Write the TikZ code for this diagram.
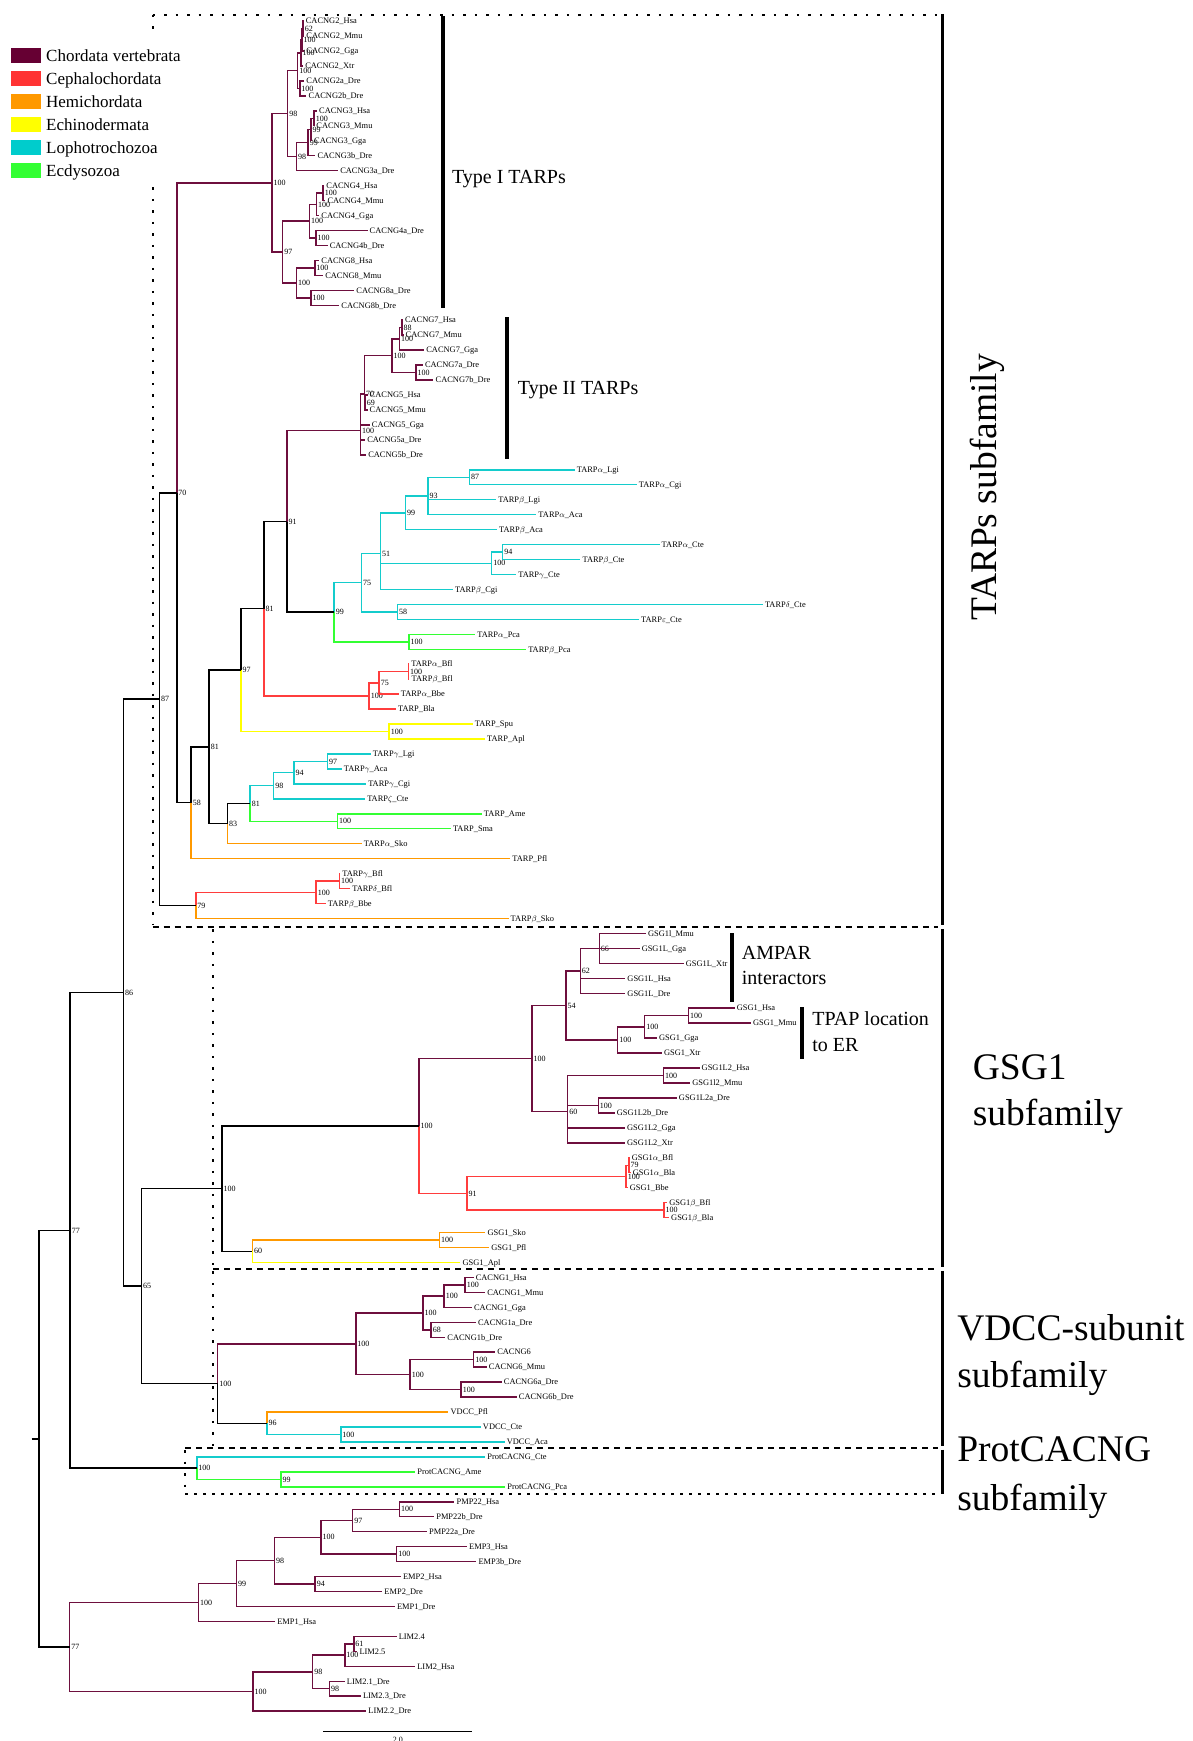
\documentclass[tikz,border=0pt]{standalone}
\usepackage{fontspec}
\setmainfont{Liberation Serif}
\definecolor{cV}{HTML}{6E0F3E}
\definecolor{cC}{HTML}{FF3D3D}
\definecolor{cH}{HTML}{FF9900}
\definecolor{cE}{HTML}{FFFF00}
\definecolor{cL}{HTML}{14CCCC}
\definecolor{cD}{HTML}{33FF33}
\definecolor{gV}{HTML}{660033}
\definecolor{gC}{HTML}{FF3333}
\definecolor{gL}{HTML}{00CCCC}
\tikzset{
  br/.style={line width=1.5pt},
  leaf/.style={anchor=west, inner xsep=2pt, inner ysep=0pt, text height=5.8pt, text depth=0.3pt, font=\fontsize{8.4}{10}\selectfont},
  bs/.style={inner sep=0.9pt, text height=5.4pt, text depth=0pt, font=\fontsize{8}{9}\selectfont, label distance=0.6pt},
  ann/.style={font=\fontsize{20}{24}\selectfont, inner sep=0pt},
  sub/.style={font=\fontsize{37.5}{45}\selectfont, inner sep=0pt},
  legtext/.style={anchor=west, inner sep=0pt, text height=11.5pt, text depth=0pt, font=\fontsize{17}{20}\selectfont},
  bar/.style={line width=4pt},
  bigbar/.style={line width=3pt},
  dotln/.style={line width=2pt, dash pattern=on 2.5pt off 9pt},
  dashln/.style={line width=1.8pt, dash pattern=on 6pt off 5pt},
}
\newcommand{\lf}[4]{\node[leaf] (#1) at (#2,{19+13.47*#3}) {#4};}
\newcommand{\nd}[4]{\coordinate[label={[bs]right:#4}] (#1) at (#2,{19+13.47*#3});}
\newcommand{\ed}[3]{\foreach \ch in {#3}{\draw[br,#1] (#2) |- (\ch);}}
\begin{document}
\begin{tikzpicture}[x=1.1099pt,y=-1.1099pt]
\useasboundingbox (0,0) rectangle (1074,1568);
% ---------- boxes ----------
\draw[dotln] (137.5,13.3) -- (845,13.3);
\draw[dotln] (137.5,13.3) -- (137.5,833);
\draw[dashln] (137.5,835) -- (845,835);
\draw[dotln] (192,837) -- (192,1141);
\draw[dashln] (192,1143) -- (845,1143);
\draw[dotln] (192,1145) -- (192,1302);
\draw[dashln] (166.7,1304) -- (845,1304);
\draw[dotln] (166.7,1306) -- (166.7,1344);
\draw[dashln, dash pattern=on 3pt off 6pt] (166.7,1345.5) -- (845,1345.5);
\draw[bigbar] (848.5,12.5) -- (848.5,833.5);
\draw[bigbar] (848.5,836.5) -- (848.5,1141.5);
\draw[bigbar] (848.5,1144.5) -- (848.5,1302.5);
\draw[bigbar] (848.5,1305.5) -- (848.5,1345.5);
% ---------- legend ----------
\fill[white] (4,27) rectangle (168,163);
\foreach \col/\txt [count=\i from 0] in {gV/Chordata vertebrata, gC/Cephalochordata, cH/Hemichordata, cE/Echinodermata, gL/Lophotrochozoa, cD/Ecdysozoa}{
  \fill[\col] (10.3,{43.5+20.7*\i}) rectangle (36.9,{56.5+20.7*\i});
  \node[legtext] (leg\i) at (41.4,{50+20.7*\i}) {\txt};
}
% ---------- leaves ----------
\lf{L0}{273.5}{0}{CACNG2\_Hsa}
\lf{L1}{274}{1}{CACNG2\_Mmu}
\lf{L2}{274}{2}{CACNG2\_Gga}
\lf{L3}{273}{3}{CACNG2\_Xtr}
\lf{L4}{274}{4}{CACNG2a\_Dre}
\lf{L5}{276}{5}{CACNG2b\_Dre}
\lf{L6}{285.5}{6}{CACNG3\_Hsa}
\lf{L7}{283}{7}{CACNG3\_Mmu}
\lf{L8}{281}{8}{CACNG3\_Gga}
\lf{L9}{284}{9}{CACNG3b\_Dre}
\lf{L10}{304.5}{10}{CACNG3a\_Dre}
\lf{L11}{292}{11}{CACNG4\_Hsa}
\lf{L12}{293}{12}{CACNG4\_Mmu}
\lf{L13}{287.5}{13}{CACNG4\_Gga}
\lf{L14}{331}{14}{CACNG4a\_Dre}
\lf{L15}{295}{15}{CACNG4b\_Dre}
\lf{L16}{287.5}{16}{CACNG8\_Hsa}
\lf{L17}{291}{17}{CACNG8\_Mmu}
\lf{L18}{319}{18}{CACNG8a\_Dre}
\lf{L19}{305.5}{19}{CACNG8b\_Dre}
\lf{L20}{362.8}{20}{CACNG7\_Hsa}
\lf{L21}{363.4}{21}{CACNG7\_Mmu}
\lf{L22}{382}{22}{CACNG7\_Gga}
\lf{L23}{380.8}{23}{CACNG7a\_Dre}
\lf{L24}{390.4}{24}{CACNG7b\_Dre}
\lf{L25}{331}{25}{CACNG5\_Hsa}
\lf{L26}{331}{26}{CACNG5\_Mmu}
\lf{L27}{333}{27}{CACNG5\_Gga}
\lf{L28}{328.8}{28}{CACNG5a\_Dre}
\lf{L29}{329.7}{29}{CACNG5b\_Dre}
\lf{L30}{517.5}{30}{TARP$\alpha$\_Lgi}
\lf{L31}{573.4}{31}{TARP$\alpha$\_Cgi}
\lf{L32}{446.8}{32}{TARP$\beta$\_Lgi}
\lf{L33}{483}{33}{TARP$\alpha$\_Aca}
\lf{L34}{447.5}{34}{TARP$\beta$\_Aca}
\lf{L35}{594}{35}{TARP$\alpha$\_Cte}
\lf{L36}{522.7}{36}{TARP$\beta$\_Cte}
\lf{L37}{464.8}{37}{TARP$\gamma$\_Cte}
\lf{L38}{407.9}{38}{TARP$\beta$\_Cgi}
\lf{L39}{687}{39}{TARP$\delta$\_Cte}
\lf{L40}{575.5}{40}{TARP$\varepsilon$\_Cte}
\lf{L41}{427.9}{41}{TARP$\alpha$\_Pca}
\lf{L42}{473.8}{42}{TARP$\beta$\_Pca}
\lf{L43}{368.5}{43}{TARP$\alpha$\_Bfl}
\lf{L44}{368.8}{44}{TARP$\beta$\_Bfl}
\lf{L45}{359}{45}{TARP$\alpha$\_Bbe}
\lf{L46}{356.5}{46}{TARP\_Bla}
\lf{L47}{425.7}{47}{TARP\_Spu}
\lf{L48}{436.8}{48}{TARP\_Apl}
\lf{L49}{333.9}{49}{TARP$\gamma$\_Lgi}
\lf{L50}{307.8}{50}{TARP$\gamma$\_Aca}
\lf{L51}{329.7}{51}{TARP$\gamma$\_Cgi}
\lf{L52}{328.8}{52}{TARP$\zeta$\_Cte}
\lf{L53}{433.9}{53}{TARP\_Ame}
\lf{L54}{406}{54}{TARP\_Sma}
\lf{L55}{325.8}{55}{TARP$\alpha$\_Sko}
\lf{L56}{459.5}{56}{TARP\_Pfl}
\lf{L57}{306.3}{57}{TARP$\gamma$\_Bfl}
\lf{L58}{315.3}{58}{TARP$\delta$\_Bfl}
\lf{L59}{293.4}{59}{TARP$\beta$\_Bbe}
\lf{L60}{458}{60}{TARP$\beta$\_Sko}
\lf{L61}{581.7}{61}{GSG1l\_Mmu}
\lf{L62}{576}{62}{GSG1L\_Gga}
\lf{L63}{615.7}{63}{GSG1L\_Xtr}
\lf{L64}{563.1}{64}{GSG1L\_Hsa}
\lf{L65}{563.1}{65}{GSG1L\_Dre}
\lf{L66}{661.6}{66}{GSG1\_Hsa}
\lf{L67}{676.3}{67}{GSG1\_Mmu}
\lf{L68}{591.6}{68}{GSG1\_Gga}
\lf{L69}{596.1}{69}{GSG1\_Xtr}
\lf{L70}{630}{70}{GSG1L2\_Hsa}
\lf{L71}{621.5}{71}{GSG1l2\_Mmu}
\lf{L72}{609.5}{72}{GSG1L2a\_Dre}
\lf{L73}{553.5}{73}{GSG1L2b\_Dre}
\lf{L74}{562.8}{74}{GSG1L2\_Gga}
\lf{L75}{562.8}{75}{GSG1L2\_Xtr}
\lf{L76}{567}{76}{GSG1$\alpha$\_Bfl}
\lf{L77}{568}{77}{GSG1$\alpha$\_Bla}
\lf{L78}{565.3}{78}{GSG1\_Bbe}
\lf{L79}{600.8}{79}{GSG1$\beta$\_Bfl}
\lf{L80}{602.5}{80}{GSG1$\beta$\_Bla}
\lf{L81}{437.1}{81}{GSG1\_Sko}
\lf{L82}{440.5}{82}{GSG1\_Pfl}
\lf{L83}{414.7}{83}{GSG1\_Apl}
\lf{L84}{426.5}{84}{CACNG1\_Hsa}
\lf{L85}{436.9}{85}{CACNG1\_Mmu}
\lf{L86}{425}{86}{CACNG1\_Gga}
\lf{L87}{428.6}{87}{CACNG1a\_Dre}
\lf{L88}{401}{88}{CACNG1b\_Dre}
\lf{L89}{445.9}{89}{CACNG6}
\lf{L90}{438.4}{90}{CACNG6\_Mmu}
\lf{L91}{451.9}{91}{CACNG6a\_Dre}
\lf{L92}{465.4}{92}{CACNG6b\_Dre}
\lf{L93}{403.9}{93}{VDCC\_Pfl}
\lf{L94}{433}{94}{VDCC\_Cte}
\lf{L95}{454.5}{95}{VDCC\_Aca}
\lf{L96}{437}{96}{ProtCACNG\_Cte}
\lf{L97}{374}{97}{ProtCACNG\_Ame}
\lf{L98}{455}{98}{ProtCACNG\_Pca}
\lf{L99}{409.3}{99}{PMP22\_Hsa}
\lf{L100}{391}{100}{PMP22b\_Dre}
\lf{L101}{384.5}{101}{PMP22a\_Dre}
\lf{L102}{420.6}{102}{EMP3\_Hsa}
\lf{L103}{429}{103}{EMP3b\_Dre}
\lf{L104}{361}{104}{EMP2\_Hsa}
\lf{L105}{344.3}{105}{EMP2\_Dre}
\lf{L106}{355.6}{106}{EMP1\_Dre}
\lf{L107}{247.8}{107}{EMP1\_Hsa}
\lf{L108}{357.2}{108}{LIM2.4}
\lf{L109}{321.8}{109}{LIM2.5}
\lf{L110}{373.9}{110}{LIM2\_Hsa}
\lf{L111}{310.5}{111}{LIM2.1\_Dre}
\lf{L112}{325}{112}{LIM2.3\_Dre}
\lf{L113}{329.8}{113}{LIM2.2\_Dre}
% ---------- internal nodes ----------
\nd{a62}{273}{0.5}{62}
\nd{a100a}{272}{1.25}{100}
\nd{a100b}{271}{2.125}{100}
\nd{a100c}{270}{4.5}{100}
\nd{aCG}{268}{3.3125}{100}
\nd{b100}{283}{6.5}{100}
\nd{b99a}{280}{7.25}{99}
\nd{b99b}{277.6}{8.125}{99}
\nd{bCG}{267}{9.0625}{98}
\nd{n98T}{259}{6.1875}{98}
\nd{c100a}{291}{11.5}{100}
\nd{c100b}{285}{12.25}{100}
\nd{c100c}{284.5}{14.5}{100}
\nd{cCG}{278.6}{13.375}{100}
\nd{d100a}{283.5}{16.5}{100}
\nd{d100b}{280}{18.5}{100}
\nd{dCG}{267}{17.5}{100}
\nd{n97T}{254.5}{15.4375}{97}
\nd{T1}{244.8}{10.8125}{100}
\nd{e88}{361.9}{20.5}{88}
\nd{e100a}{359.8}{21.25}{100}
\nd{e100b}{374.6}{23.5}{100}
\nd{eCG}{352.9}{22.375}{100}
\nd{e69}{328.8}{25.5}{69}
\nd{e70}{328.2}{24.94}{70}
\nd{T2}{324.7}{27.39}{100}
\nd{f87}{422.7}{30.5}{87}
\nd{f93}{385.5}{31.75}{93}
\nd{f99}{365.2}{32.875}{99}
\nd{f94}{452.7}{35.5}{94}
\nd{f100}{442.7}{36.25}{100}
\nd{f51}{342.7}{35.6}{51}
\nd{f58}{357.9}{39.5}{58}
\nd{f75}{325.5}{37.55}{75}
\nd{g100}{368.3}{41.5}{100}
\nd{n99}{301}{39.525}{99}
\nd{n91}{258.3}{33.46}{91}
\nd{h100a}{367.8}{43.5}{100}
\nd{h75}{341.4}{44.25}{75}
\nd{h100}{332.4}{45.125}{100}
\nd{n81a}{237.6}{39.29}{81}
\nd{i100}{350.5}{47.5}{100}
\nd{n97}{217}{43.4}{97}
\nd{j97}{294.9}{49.5}{97}
\nd{j94}{264.8}{50.25}{94}
\nd{j98}{246.5}{51.125}{98}
\nd{k100}{304}{53.5}{100}
\nd{n81c}{225.2}{52.31}{81}
\nd{n83}{204.9}{53.66}{83}
\nd{n81b}{188.3}{48.53}{81}
\nd{n58}{172.1}{52.26}{58}
\nd{n70}{159.2}{31.54}{70}
\nd{x1}{305.6}{57.5}{100}
\nd{x2}{284.7}{58.25}{100}
\nd{n79}{176.3}{59.125}{79}
\nd{n87}{143.5}{45.33}{87}
\nd{m66}{539.7}{62}{66}
\nd{m62}{522.6}{63.5}{62}
\nd{m100a}{620.1}{66.5}{100}
\nd{m100b}{580.5}{67.25}{100}
\nd{m100c}{556.2}{68.125}{100}
\nd{m54}{509.6}{65.81}{54}
\nd{o100a}{597.4}{70.5}{100}
\nd{o100b}{538.8}{72.5}{100}
\nd{o60}{511.2}{72.9}{60}
\nd{mV}{479}{69.36}{100}
\nd{p79}{566.4}{76.5}{79}
\nd{p100a}{563.9}{77.25}{100}
\nd{p100b}{598}{79.5}{100}
\nd{p91}{420.5}{78.375}{91}
\nd{mG}{377.4}{73.87}{100}
\nd{q100}{395.7}{81.5}{100}
\nd{q60}{227.4}{82.25}{60}
\nd{G1}{199.8}{78.06}{100}
\nd{r100a}{418.9}{84.5}{100}
\nd{r100b}{400}{85.25}{100}
\nd{r68}{388.3}{87.5}{68}
\nd{r100c}{380.8}{86.375}{100}
\nd{s100a}{426.5}{89.5}{100}
\nd{s100b}{415.4}{91.5}{100}
\nd{s100c}{369.4}{90.5}{100}
\nd{r100}{320.4}{88.44}{100}
\nd{u100}{306.9}{94.5}{100}
\nd{u96}{240.3}{93.75}{96}
\nd{VD}{196.1}{91.1}{100}
\nd{n65}{127.3}{84.58}{65}
\nd{n86}{111.1}{64.96}{86}
\nd{w99}{252.9}{97.5}{99}
\nd{PR}{177.2}{96.75}{100}
\nd{n77a}{63.1}{80.86}{77}
\nd{v100a}{359.7}{99.5}{100}
\nd{v97}{317.6}{100.25}{97}
\nd{v100b}{357.2}{102.5}{100}
\nd{v100c}{289}{101.375}{100}
\nd{v94}{283.8}{104.5}{94}
\nd{v98}{247.1}{102.94}{98}
\nd{v99}{213}{104.47}{99}
\nd{v100}{178.6}{105.73}{100}
\nd{y61}{318.6}{108.5}{61}
\nd{y100a}{310.5}{109.25}{100}
\nd{y98b}{296.7}{111.5}{98}
\nd{y98}{281.6}{110.375}{98}
\nd{y100}{227.8}{111.69}{100}
\nd{n77b}{62.7}{108.71}{77}
\coordinate (root) at (35,{19+13.47*94.79});
\coordinate (stub) at (28.5,{19+13.47*94.79});
% ---------- branches ----------
\ed{cV}{a62}{L0,L1}
\ed{cV}{a100a}{a62,L2}
\ed{cV}{a100b}{a100a,L3}
\ed{cV}{a100c}{L4,L5}
\ed{cV}{aCG}{a100b,a100c}
\ed{cV}{b100}{L6,L7}
\ed{cV}{b99a}{b100,L8}
\ed{cV}{b99b}{b99a,L9}
\ed{cV}{bCG}{b99b,L10}
\ed{cV}{n98T}{aCG,bCG}
\ed{cV}{c100a}{L11,L12}
\ed{cV}{c100b}{c100a,L13}
\ed{cV}{c100c}{L14,L15}
\ed{cV}{cCG}{c100b,c100c}
\ed{cV}{d100a}{L16,L17}
\ed{cV}{d100b}{L18,L19}
\ed{cV}{dCG}{d100a,d100b}
\ed{cV}{n97T}{cCG,dCG}
\ed{cV}{T1}{n98T,n97T}
\ed{cV}{e88}{L20,L21}
\ed{cV}{e100a}{e88,L22}
\ed{cV}{e100b}{L23,L24}
\ed{cV}{eCG}{e100a,e100b}
\ed{cV}{e69}{L25,L26}
\ed{cV}{e70}{eCG,e69}
\ed{cV}{T2}{e70,L27,L28,L29}
\ed{cL}{f87}{L30,L31}
\ed{cL}{f93}{f87,L32,L33}
\ed{cL}{f99}{f93,L34}
\ed{cL}{f94}{L35,L36}
\ed{cL}{f100}{f94,L37}
\ed{cL}{f51}{f99,f100,L38}
\ed{cL}{f58}{L39,L40}
\ed{cL}{f75}{f51,f58}
\ed{cD}{g100}{L41,L42}
\ed{cL}{n99}{f75}
\ed{cD}{n99}{g100}
\ed{cV}{n91}{T2}
\ed{black}{n91}{n99}
\ed{cC}{h100a}{L43,L44}
\ed{cC}{h75}{h100a,L45}
\ed{cC}{h100}{h75,L46}
\ed{black}{n81a}{n91}
\ed{cC}{n81a}{h100}
\ed{cE}{i100}{L47,L48}
\ed{black}{n97}{n81a}
\ed{cE}{n97}{i100}
\ed{cL}{j97}{L49,L50}
\ed{cL}{j94}{j97,L51}
\ed{cL}{j98}{j94,L52}
\ed{cD}{k100}{L53,L54}
\ed{cL}{n81c}{j98}
\ed{cD}{n81c}{k100}
\ed{black}{n83}{n81c}
\ed{cH}{n83}{L55}
\ed{black}{n81b}{n97,n83}
\ed{black}{n58}{n81b}
\ed{cH}{n58}{L56}
\ed{cV}{n70}{T1}
\ed{black}{n70}{n58}
\ed{cC}{x1}{L57,L58}
\ed{cC}{x2}{x1,L59}
\ed{cC}{n79}{x2}
\ed{cH}{n79}{L60}
\ed{black}{n87}{n70,n79}
\ed{cV}{m66}{L61,L62,L63}
\ed{cV}{m62}{m66,L64,L65}
\ed{cV}{m100a}{L66,L67}
\ed{cV}{m100b}{m100a,L68}
\ed{cV}{m100c}{m100b,L69}
\ed{cV}{m54}{m62,m100c}
\ed{cV}{o100a}{L70,L71}
\ed{cV}{o100b}{L72,L73}
\ed{cV}{o60}{o100a,o100b,L74,L75}
\ed{cV}{mV}{m54,o60}
\ed{cC}{p79}{L76,L77}
\ed{cC}{p100a}{p79,L78}
\ed{cC}{p100b}{L79,L80}
\ed{cC}{p91}{p100a,p100b}
\ed{cV}{mG}{mV}
\ed{cC}{mG}{p91}
\ed{cH}{q100}{L81,L82}
\ed{cH}{q60}{q100}
\ed{cE}{q60}{L83}
\ed{black}{G1}{mG,q60}
\ed{cV}{r100a}{L84,L85}
\ed{cV}{r100b}{r100a,L86}
\ed{cV}{r68}{L87,L88}
\ed{cV}{r100c}{r100b,r68}
\ed{cV}{s100a}{L89,L90}
\ed{cV}{s100b}{L91,L92}
\ed{cV}{s100c}{s100a,s100b}
\ed{cV}{r100}{r100c,s100c}
\ed{cL}{u100}{L94,L95}
\ed{cH}{u96}{L93}
\ed{cL}{u96}{u100}
\ed{cV}{VD}{r100}
\ed{black}{VD}{u96}
\ed{black}{n65}{G1,VD}
\ed{black}{n86}{n87,n65}
\ed{cD}{w99}{L97,L98}
\ed{cL}{PR}{L96}
\ed{cD}{PR}{w99}
\ed{black}{n77a}{n86,PR}
\ed{cV}{v100a}{L99,L100}
\ed{cV}{v97}{v100a,L101}
\ed{cV}{v100b}{L102,L103}
\ed{cV}{v100c}{v97,v100b}
\ed{cV}{v94}{L104,L105}
\ed{cV}{v98}{v100c,v94}
\ed{cV}{v99}{v98,L106}
\ed{cV}{v100}{v99,L107}
\ed{cV}{y61}{L108,L109}
\ed{cV}{y100a}{y61,L110}
\ed{cV}{y98b}{L111,L112}
\ed{cV}{y98}{y100a,y98b}
\ed{cV}{y100}{y98,L113}
\ed{cV}{n77b}{v100,y100}
\ed{black}{root}{n77a,n77b}
\draw[br] (stub) -- (root);
% ---------- annotation bars ----------
\coordinate (b1t) at (399,14.5); \coordinate (b1b) at (399,277.8);
\draw[bar] (b1t) -- (b1b);
\node[ann, anchor=base west] (tI) at (407,165) {Type I TARPs};
\coordinate (b2t) at (457,285.5); \coordinate (b2b) at (457,413);
\draw[bar] (b2t) -- (b2b);
\node[ann, anchor=base west] (tII) at (466.3,355) {Type II TARPs};
\coordinate (b3t) at (659.5,840.3); \coordinate (b3b) at (659.5,902.7);
\draw[bar] (b3t) -- (b3b);
\node[ann, anchor=base west] (amp1) at (668,864) {AMPAR};
\node[ann, anchor=base west] (amp2) at (668,886.5) {interactors};
\coordinate (b4t) at (722.5,907); \coordinate (b4b) at (722.5,953.5);
\draw[bar] (b4t) -- (b4b);
\node[ann, anchor=base west] (tp1) at (731.5,924) {TPAP location};
\node[ann, anchor=base west] (tp2) at (731.5,947) {to ER};
% ---------- subfamily labels ----------
\node[sub, rotate=90] (sT) at (889,439) {TARPs subfamily};
\node[sub, anchor=base west] (sG1) at (876,972) {GSG1};
\node[sub, anchor=base west] (sG2) at (876,1014) {subfamily};
\node[sub, anchor=base west] (sV1) at (862,1207) {VDCC-subunit};
\node[sub, anchor=base west] (sV2) at (862,1250) {subfamily};
\node[sub, anchor=base west] (sP1) at (862,1316) {ProtCACNG};
\node[sub, anchor=base west] (sP2) at (862,1360) {subfamily};
% ---------- scale bar ----------
\coordinate (sbL) at (291.2,1559.6); \coordinate (sbR) at (425.4,1559.6);
\draw[line width=1pt] (sbL) -- (sbR);
\node[anchor=north, inner sep=0pt, font=\fontsize{8}{9}\selectfont] (sbT) at (358.3,1564.5) {2.0};
\end{tikzpicture}
\end{document}
